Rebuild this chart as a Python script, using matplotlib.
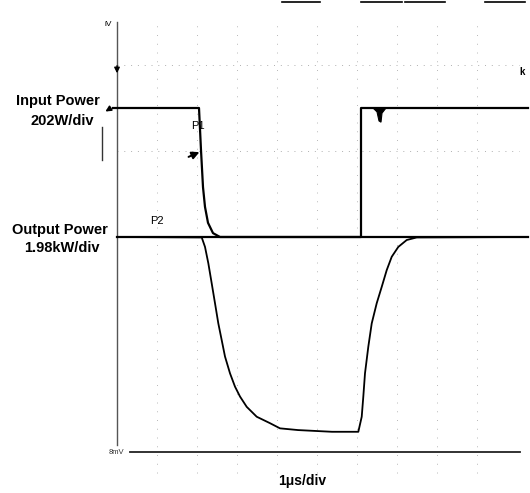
import numpy as np
import matplotlib.pyplot as plt

plt.rcParams['font.family'] = ['Liberation Sans', 'DejaVu Sans']

# time in us (1 us/div), amplitude in screen divisions (output baseline = 0)
in_t = [-0.1, 2.05, 2.1, 2.15, 2.2, 2.275, 2.4, 2.575, 6.1, 6.1, 10.275]
in_p = [3.0, 3.0, 2.02, 1.16, 0.70, 0.33, 0.09, 0.0, 0.0, 3.0, 3.0]

# small glitch on the input trace after switch-on
spike_t = [6.4, 6.5, 6.55, 6.6, 6.625, 6.725]
spike_p = [3.0, 2.91, 2.70, 2.67, 2.88, 3.0]

out_t = [0.0, 2.118, 2.2, 2.283, 2.368, 2.45, 2.533, 2.618, 2.7, 2.825, 2.95, 3.075, 3.243,
         3.493, 3.825, 4.075, 4.525, 5.375, 5.825, 6.033, 6.118, 6.158, 6.2, 6.283, 6.368,
         6.493, 6.618, 6.743, 6.868, 7.033, 7.243, 7.493, 10.275]
out_p = [0.0, -0.01, -0.23, -0.61, -1.08, -1.54, -2.01, -2.40, -2.78, -3.17, -3.48, -3.71, -3.95,
         -4.18, -4.33, -4.45, -4.49, -4.53, -4.53, -4.53, -4.18, -3.71, -3.17, -2.55, -2.01,
         -1.54, -1.16, -0.77, -0.46, -0.23, -0.07, -0.01, 0.0]

grid_t = [1, 2, 3, 4, 5, 6, 7, 8, 9]
grid_div = [2, 4]
out_ref = 0.0
bottom_ref = -5.0
top_marks = [(4.12, 5.07), (6.1, 7.12), (7.2, 8.2), (9.2, 10.2)]

W, H = 530, 493
fig = plt.figure(figsize=(W / 100, H / 100), dpi=100)
ax = fig.add_axes([0, 0, 1, 1])
ax.axis('off')
# screen origin at pixel (117, 237), 40 px per us, 43 px per div
ax.set_xlim(-117 / 40, (W - 117) / 40)
ax.set_ylim((237 - H) / 43, 237 / 43)

def at(px, py):
    return (px - 117) / 40, (237 - py) / 43

# faint dotted graticule
for t in grid_t:
    ax.axvline(t, ymin=0.04, ymax=0.95, color='#b8b8b8', lw=0.7, ls=(0, (1, 8)))
for d in grid_div:
    ax.axhline(d, xmin=0.22, xmax=0.98, color='#b0b0b0', lw=0.7, ls=(0, (1, 6)))

# left screen edge and bottom reference
ax.plot([0, 0], [at(0, 22)[1], at(0, 445)[1]], color='#555555', lw=1.0)
ax.plot([0.33, 10.08], [bottom_ref, bottom_ref], color='#222222', lw=1.3)
ax.plot([0, 10.275], [out_ref, out_ref], color='black', lw=1.6)
for a, b in top_marks:
    ax.plot([a, b], [5.47, 5.47], color='black', lw=1.2)

ax.plot(in_t, in_p, color='black', lw=1.6)
ax.fill(spike_t, spike_p, color='black', lw=0.8)
ax.plot(out_t, out_p, color='black', lw=1.3)

# markers
ax.annotate('', xy=at(202, 151), xytext=at(186, 158),
            arrowprops=dict(arrowstyle='-|>', color='black', lw=1.4, mutation_scale=11))
ax.annotate('', xy=at(117, 76), xytext=at(117, 63),
            arrowprops=dict(arrowstyle='-|>', color='black', lw=1.0, mutation_scale=8))
ax.annotate('', xy=at(103, 113), xytext=at(111, 108),
            arrowprops=dict(arrowstyle='-|>', color='black', lw=1.2, mutation_scale=8))
ax.plot(*zip(at(102, 127), at(102, 160)), color='#333333', lw=1.0)
ax.text(*at(522, 72), 'k', fontsize=7, ha='center', va='center', fontweight='bold')

bold = dict(fontweight='bold', fontsize=10.5, ha='center', va='center')
ax.text(*at(58, 101), 'Input Power', **bold)
ax.text(*at(62, 121), '202W/div', **bold)
ax.text(*at(60, 230), 'Output Power', **bold)
ax.text(*at(62, 248), '1.98kW/div', **bold)
ax.text(*at(302, 481), '1μs/div', fontweight='bold', fontsize=10, ha='center', va='center')
ax.text(*at(198, 126), 'P1', fontsize=8, ha='center', va='center')
ax.text(*at(157, 221), 'P2', fontsize=8, ha='center', va='center')
ax.text(*at(108, 24), 'iV', fontsize=6, ha='center', va='center')
ax.text(*at(116, 453), '8mV', fontsize=5.5, ha='center', va='center', color='#333333')

fig.savefig('out.png', dpi=100)
